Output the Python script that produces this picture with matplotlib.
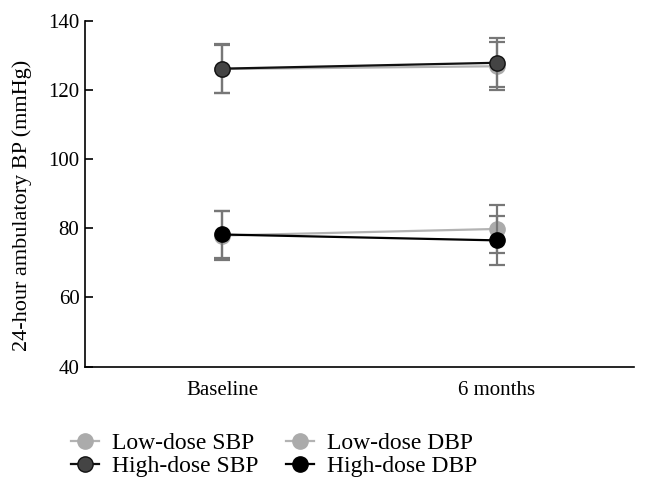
import matplotlib
matplotlib.use('Agg')
import matplotlib.pyplot as plt

# values
timepoints = ['Baseline', '6 months']
low_sbp = [126.0, 126.8]
low_sbp_err = [7.0, 7.0]
high_sbp = [126.1, 127.8]
high_sbp_err = [7.0, 7.1]
low_dbp = [77.9, 79.8]
low_dbp_err = [7.1, 7.0]
high_dbp = [78.2, 76.5]
high_dbp_err = [6.8, 7.1]

plt.rcParams['font.family'] = ['Liberation Serif', 'DejaVu Serif']

fig = plt.figure(figsize=(6.49, 5.01), dpi=100)
ax = fig.add_axes([0.131, 0.268, 0.846, 0.691])

x = list(range(len(timepoints)))
ERR = '#777777'

def series(vals, errs, label, line, face, edge, z):
  ax.errorbar(x, vals, yerr=errs, fmt='none', ecolor=ERR, elinewidth=1.6,
              capsize=6, capthick=1.6, zorder=z)
  ax.plot(x, vals, '-o', color=line, lw=1.6, ms=11, markerfacecolor=face,
          markeredgecolor=edge, markeredgewidth=1.0, label=label, zorder=z + 1)

series(low_sbp, low_sbp_err, 'Low-dose SBP', '#b3b3b3', '#ababab', '#ababab', 2)
series(high_sbp, high_sbp_err, 'High-dose SBP', '#111111', '#444444', '#111111', 4)
series(low_dbp, low_dbp_err, 'Low-dose DBP', '#b3b3b3', '#ababab', '#ababab', 2)
series(high_dbp, high_dbp_err, 'High-dose DBP', '#000000', '#000000', '#000000', 4)

ax.set_xlim(-0.5, 1.5)
ax.set_ylim(40, 140)
ax.set_yticks([40, 60, 80, 100, 120, 140])
ax.set_xticks(x)
ax.set_xticklabels(timepoints)
ax.tick_params(axis='y', direction='in', length=6, width=1.2, labelsize=15, pad=4)
ax.tick_params(axis='x', length=0, labelsize=15, pad=10)
ax.spines['top'].set_visible(False)
ax.spines['right'].set_visible(False)
for s in ['left', 'bottom']:
  ax.spines[s].set_linewidth(1.2)
ax.set_ylabel('24-hour ambulatory BP (mmHg)', fontsize=16)
ax.yaxis.set_label_coords(-0.097, 0.465)

fig.legend(loc='center left', bbox_to_anchor=(0.076, 0.092), ncol=2, frameon=False,
           fontsize=17, handlelength=1.2, handletextpad=0.55, columnspacing=1.15,
           labelspacing=0.05)

fig.savefig('out.png', dpi=100)
